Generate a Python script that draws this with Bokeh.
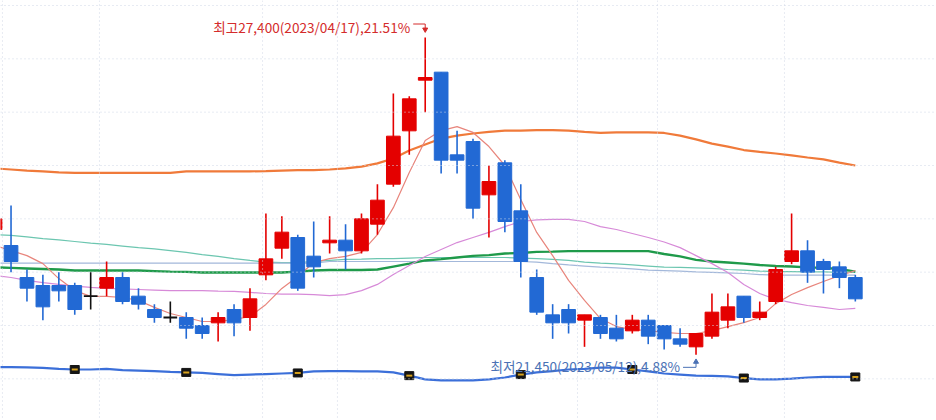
from bokeh.plotting import figure
from bokeh.models import Range1d, Span, ColumnDataSource
from bokeh.embed import file_html
from bokeh.resources import INLINE
from bokeh.core.properties import value

# ---------------- data ----------------
idx = list(range(55))
opens = [23800, 23500, 22900, 22750, 22750, 22750, 22550, 22700, 22900, 22550,
         22300, 22150, 22150, 22000, 22050, 22300, 22150, 22950, 23450, 23650,
         23300, 23550, 23600, 23400, 23900, 24650, 25650, 26600, 26750, 25200,
         25450, 24450, 25050, 24150, 22900, 22200, 22300, 22100, 22150, 21950,
         21900, 22100, 22000, 21750, 21600, 21800, 22100, 22550, 22150, 22450,
         23200, 23400, 23200, 23100, 22900]
highs = [24050, 24250, 23050, 22950, 23000, 22800, 23000, 23200, 23000, 22700,
         22400, 22450, 22250, 22150, 22250, 22400, 22700, 24100, 24050, 23700,
         23950, 24050, 23900, 24100, 24650, 26350, 26300, 27400, 26750, 25650,
         25500, 25000, 25100, 24650, 23050, 22400, 22400, 22200, 22200, 22200,
         22200, 22200, 22000, 21950, 21850, 22600, 22600, 22550, 22450, 23100,
         24100, 23600, 23250, 23200, 22950]
lows = [23750, 23000, 22450, 22100, 22450, 22200, 22300, 22550, 22400, 22300,
        22050, 22050, 21750, 21750, 21700, 21800, 21900, 22850, 23250, 22650,
        22900, 23350, 23050, 23350, 23700, 24600, 25200, 26000, 24850, 24850,
        24000, 23650, 23750, 22900, 22200, 21750, 21850, 21600, 21750, 21700,
        21850, 21650, 21550, 21600, 21450, 21750, 21950, 22050, 22100, 22400,
        23150, 22800, 22600, 22700, 22450]
closes = [24000, 23200, 22700, 22350, 22650, 22300, 22550, 22900, 22450, 22400,
          22150, 22150, 21950, 21850, 22150, 22050, 22500, 23250, 23750, 22700,
          23100, 23600, 23400, 24000, 24350, 25550, 26250, 26650, 25100, 25100,
          24200, 24700, 23950, 23200, 22250, 22050, 22050, 22200, 21850, 21750,
          22100, 21800, 21750, 21650, 21850, 22250, 22350, 22150, 22250, 23050,
          23400, 23000, 23050, 22900, 22500]

ma_orange = [24945, 24925, 24905, 24890, 24870, 24860, 24860, 24860, 24860, 24860,
             24860, 24860, 24890, 24890, 24890, 24890, 24890, 24895, 24905, 24915,
             24915, 24925, 24945, 24980, 25040, 25130, 25280, 25395, 25505, 25560,
             25600, 25630, 25655, 25655, 25665, 25665, 25655, 25630, 25610, 25620,
             25620, 25620, 25610, 25560, 25490, 25410, 25355, 25290, 25255, 25225,
             25190, 25150, 25115, 25055, 25000]
ma_green = [23090, 23080, 23070, 23060, 23050, 23030, 23030, 23030, 23030, 23030,
            23020, 23010, 23005, 22995, 22995, 22995, 22995, 22995, 22995, 23010,
            23030, 23040, 23040, 23040, 23050, 23105, 23160, 23220, 23245, 23275,
            23305, 23320, 23350, 23360, 23380, 23385, 23395, 23395, 23395, 23395,
            23395, 23395, 23340, 23295, 23230, 23200, 23180, 23160, 23135, 23115,
            23105, 23090, 23080, 23060, 23010]
ma_teal = [23705, 23690, 23660, 23630, 23605, 23575, 23545, 23520, 23490, 23460,
           23435, 23405, 23370, 23330, 23295, 23255, 23220, 23190, 23180, 23180,
           23200, 23220, 23240, 23245, 23255, 23255, 23265, 23275, 23275, 23275,
           23275, 23275, 23275, 23265, 23255, 23240, 23220, 23190, 23170, 23155,
           23135, 23115, 23095, 23090, 23080, 23070, 23050, 23040, 23020, 23010,
           23010, 23005, 23005, 22995, 22995]
ma_lightblue = [23170] * 21 + [23200] * 13 + [
    23190, 23160, 23135, 23115, 23095, 23080, 23060, 23040, 23030, 23020,
    23005, 22995, 22985, 22975, 22955, 22945, 22945, 22945, 22945, 22945, 22945]
ma_pink = [22940, 22900, 22845, 22805, 22770, 22740, 22715, 22695, 22685, 22675,
           22665, 22655, 22655, 22655, 22645, 22640, 22620, 22600, 22590, 22590,
           22580, 22560, 22580, 22655, 22770, 22955, 23125, 23295, 23425, 23555,
           23650, 23745, 23855, 23950, 23980, 23990, 23990, 23950, 23855, 23800,
           23725, 23650, 23565, 23460, 23310, 23160, 22995, 22770, 22600, 22490,
           22430, 22375, 22340, 22300, 22320]
ma_salmon = [23500, 23405, 23310, 23160, 22880, 22655, 22545, 22545, 22525, 22470,
             22340, 22225, 22150, 22075, 22075, 22110, 22170, 22395, 22695, 22920,
             23180, 23255, 23295, 23370, 23705, 24210, 24870, 25470, 25655, 25730,
             25620, 25355, 25000, 24360, 23745, 23310, 22845, 22470, 22130, 21980,
             21925, 21905, 21870, 21850, 21850, 21905, 21980, 22055, 22150, 22410,
             22580, 22710, 22825, 22935, 23030]
line_bottom = [21220, 21220, 21215, 21205, 21185, 21175, 21175, 21185, 21165, 21155,
               21145, 21130, 21120, 21110, 21090, 21070, 21080, 21090, 21100, 21110,
               21140, 21145, 21145, 21140, 21140, 21120, 21060, 20990, 20970, 20970,
               20970, 20990, 21025, 21080, 21120, 21145, 21175, 21185, 21210, 21210,
               21175, 21140, 21100, 21080, 21060, 21055, 21045, 21015, 20990, 20990,
               21005, 21025, 21035, 21035, 21035]
marker_idx = [5, 12, 19, 26, 33, 40, 47, 54]

grid_prices = [21000, 22000, 23000, 24000, 25000, 26000, 27000, 28000]
grid_idx = [0.46, 6.55, 16.79, 21.49, 36.56, 41.58, 49.55]

high_idx, high_val = 27, 27400
low_idx, low_val = 44, 21450
high_label = "최고27,400(2023/04/17),21.51%"
low_label = "최저21,450(2023/05/12),4.88%"

# ---------------- layout constants ----------------
W, H = 936, 420
PXX = 15.93          # pixels per candle
PPY = 18.75          # price per pixel
X0 = 0.339
Y_TOP = 28093.75
Y_BOTTOM = Y_TOP - H * PPY

RED = "#e40000"
BLUE = "#2269d4"
BLACK = "#111111"

p = figure(width=W, height=H, output_backend="svg", toolbar_location=None,
           x_range=Range1d(X0, X0 + W / PXX), y_range=Range1d(Y_BOTTOM, Y_TOP),
           x_axis_location=None, y_axis_location=None, min_border=0,
           outline_line_color=None, background_fill_color="white",
           border_fill_color="white")
p.grid.visible = False

for g in grid_prices:
    p.add_layout(Span(location=g, dimension="width", line_color="#cfd7e6",
                      line_dash="1 3", line_width=1))
for g in grid_idx:
    p.add_layout(Span(location=g, dimension="height", line_color="#cfd7e6",
                      line_dash="1 3", line_width=1))

# moving average lines
p.line(idx, ma_orange, line_color="#f07a3a", line_width=2.2)
p.line(idx, ma_teal, line_color="#6cc6b0", line_width=1.2)
p.line(idx, ma_lightblue, line_color="#a3b8da", line_width=1.2)
p.line(idx, ma_green, line_color="#1f9a4a", line_width=2.4)
p.line(idx, ma_pink, line_color="#d78ad8", line_width=1.2)
p.line(idx, ma_salmon, line_color="#e8857c", line_width=1.2)
p.line(idx, line_bottom, line_color="#3b6fd9", line_width=2.2)

mk_y = [line_bottom[i] for i in marker_idx]
p.rect(marker_idx, mk_y, width=9, height=8, width_units="screen",
       height_units="screen", fill_color="#151515", line_color="#151515")
p.rect(marker_idx, mk_y, width=6, height=2, width_units="screen",
       height_units="screen", fill_color="#d7a21e", line_color=None)

# candles
colors = []
for o, c in zip(opens, closes):
    colors.append(RED if c > o else (BLUE if c < o else BLACK))
src = ColumnDataSource(dict(x=idx, h=highs, l=lows, col=colors))
p.segment("x", "h", "x", "l", source=src, line_color="col", line_width=1.6)
body_idx = [i for i in idx if opens[i] != closes[i]]
doji_idx = [i for i in idx if opens[i] == closes[i]]
bsrc = ColumnDataSource(dict(
    x=body_idx,
    top=[max(opens[i], closes[i]) for i in body_idx],
    bot=[min(opens[i], closes[i]) for i in body_idx],
    col=[colors[i] for i in body_idx]))
p.vbar(x="x", width=0.86, top="top", bottom="bot", source=bsrc,
       fill_color="col", line_color="col", line_width=1)
HW = 0.43
p.segment([i - HW for i in doji_idx], [opens[i] for i in doji_idx],
          [i + HW for i in doji_idx], [opens[i] for i in doji_idx],
          line_color=BLACK, line_width=1.8)

# annotations for high / low
def dx(px):
    return px / PXX

def dy(px):
    return px * PPY

HC = "#d42b2b"
p.text([high_idx - dx(15)], [high_val + dy(11)], text=[high_label],
       text_align="right", text_baseline="middle", text_color=HC,
       text_font=value("Noto Sans CJK KR"), text_font_size="13.6px")
p.segment([high_idx - dx(12)], [high_val + dy(13.5)], [high_idx], [high_val + dy(13.5)],
          line_color=HC, line_width=1)
p.segment([high_idx], [high_val + dy(13.5)], [high_idx], [high_val + dy(8)],
          line_color=HC, line_width=1)
p.scatter([high_idx], [high_val + dy(8)], marker="inverted_triangle", size=5,
          fill_color=HC, line_color=HC)

LC = "#4b72b5"
p.text([low_idx - dx(16)], [low_val - dy(11)], text=[low_label],
       text_align="right", text_baseline="middle", text_color=LC,
       text_font=value("Noto Sans CJK KR"), text_font_size="13.6px")
p.segment([low_idx - dx(13)], [low_val - dy(12.5)], [low_idx], [low_val - dy(12.5)],
          line_color=LC, line_width=1)
p.segment([low_idx], [low_val - dy(12.5)], [low_idx], [low_val - dy(7)],
          line_color=LC, line_width=1)
p.scatter([low_idx], [low_val - dy(7)], marker="triangle", size=5,
          fill_color=LC, line_color=LC)

open("out.html", "w").write(file_html(p, INLINE))
